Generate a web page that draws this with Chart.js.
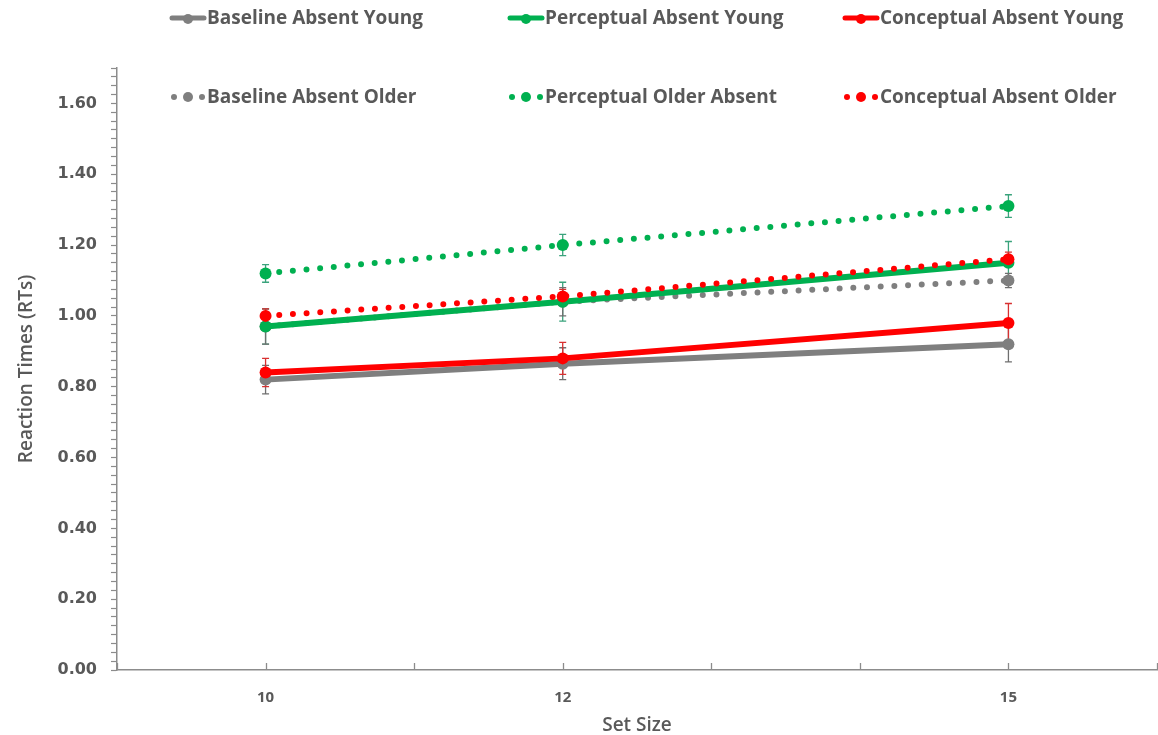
<!DOCTYPE html>
<html>
<head>
<meta charset="utf-8">
<title>Reaction Times by Set Size</title>
<script src="https://cdn.jsdelivr.net/npm/chart.js@4.4.1/dist/chart.umd.min.js"></script>
<style>
  html, body { margin: 0; padding: 0; background: #fff; }
  #wrap { position: relative; width: 1158px; height: 735px; overflow: hidden; }
</style>
</head>
<body>
<div id="wrap"><canvas id="rtChart" width="1163" height="735"></canvas></div>
<script>
/* ========= Data ========= */
const setSizes = [10, 12, 15];
const labeledSizes = [10, 12, 15];

const baselineYoung = [0.82, 0.865, 0.92];
const perceptualYoung = [0.97, 1.04, 1.15];
const conceptualYoung = [0.84, 0.88, 0.98];
const baselineOlder = [0.97, 1.04, 1.10];
const perceptualOlder = [1.12, 1.20, 1.31];
const conceptualOlder = [1.00, 1.055, 1.16];

// +/- error per point
const baselineYoungErr = [0.04, 0.045, 0.05];
const perceptualYoungErr = [0.05, 0.055, 0.06];
const conceptualYoungErr = [0.04, 0.045, 0.055];
const baselineOlderErr = [0.05, 0.04, 0.02];
const perceptualOlderErr = [0.025, 0.03, 0.032];
const conceptualOlderErr = [0.02, 0.02, 0.02];

const GRAY = "#7f7f7f";
const GREEN = "#00b050";
const RED = "#ff0000";
const TEXT = "#595959";

function toPoints(values) {
  return values.map((v, i) => ({ x: setSizes[i], y: v }));
}

function series(label, values, errs, color, errColor, dotted, order) {
  return {
    label,
    data: toPoints(values),
    errors: errs,
    errColor,
    dotted,
    order, // higher = drawn underneath
    borderColor: color,
    backgroundColor: color,
    borderWidth: 6,
    borderDash: dotted ? [0, 13.7] : [],
    borderCapStyle: "round",
    pointRadius: 6,
    pointBorderWidth: 0,
    pointBackgroundColor: color,
    tension: 0,
  };
}

const datasets = [
  series("Baseline Absent Young", baselineYoung, baselineYoungErr, GRAY, "#6f6f6f", false, 5),
  series("Perceptual Absent Young", perceptualYoung, perceptualYoungErr, GREEN, "#3aa37c", false, 4),
  series("Conceptual Absent Young", conceptualYoung, conceptualYoungErr, RED, "#d83030", false, 3),
  series("Baseline Absent Older", baselineOlder, baselineOlderErr, GRAY, "#6f6f6f", true, 6),
  series("Perceptual Older Absent", perceptualOlder, perceptualOlderErr, GREEN, "#3aa37c", true, 2),
  series("Conceptual Absent Older", conceptualOlder, conceptualOlderErr, RED, "#d83030", true, 1),
];

/* ========= Plugins ========= */
const errorBars = {
  id: "errorBars",
  beforeDatasetsDraw(chart) {
    const ctx = chart.ctx;
    const ys = chart.scales.y;
    ctx.save();
    chart.data.datasets.forEach((ds, i) => {
      const meta = chart.getDatasetMeta(i);
      ctx.strokeStyle = ds.errColor;
      ctx.lineWidth = 1.3;
      meta.data.forEach((pt, j) => {
        const v = ds.data[j].y;
        const e = ds.errors[j];
        const top = ys.getPixelForValue(v + e);
        const bot = ys.getPixelForValue(v - e);
        ctx.beginPath();
        ctx.moveTo(pt.x, top); ctx.lineTo(pt.x, bot);
        ctx.moveTo(pt.x - 3.5, top); ctx.lineTo(pt.x + 3.5, top);
        ctx.moveTo(pt.x - 3.5, bot); ctx.lineTo(pt.x + 3.5, bot);
        ctx.stroke();
      });
    });
    ctx.restore();
  },
};

// x ticks point inward (up from the axis)
const innerXTicks = {
  id: "innerXTicks",
  afterDraw(chart) {
    const ctx = chart.ctx;
    const xs = chart.scales.x;
    const bottom = chart.chartArea.bottom;
    ctx.save();
    ctx.strokeStyle = "#8c8c8c";
    ctx.lineWidth = 1.3;
    xs.ticks.forEach((t) => {
      const px = Math.round(xs.getPixelForValue(t.value)) + 0.5;
      ctx.beginPath();
      ctx.moveTo(px, bottom);
      ctx.lineTo(px, bottom - 7);
      ctx.stroke();
    });
    ctx.restore();
  },
};

// legend: two rows of three, second row sits inside the plot
const legendCols = [170, 508, 843];
const legendRows = [18, 97];

const customLegend = {
  id: "customLegend",
  afterDraw(chart) {
    const ctx = chart.ctx;
    ctx.save();
    chart.data.datasets.forEach((ds, i) => {
      const x = legendCols[i % 3];
      const y = legendRows[Math.floor(i / 3)];
      ctx.fillStyle = ds.borderColor;
      ctx.strokeStyle = ds.borderColor;
      if (ds.dotted) {
        [[x + 4, 3], [x + 18, 5], [x + 32, 3]].forEach(([cx, r]) => {
          ctx.beginPath();
          ctx.arc(cx, y, r, 0, Math.PI * 2);
          ctx.fill();
        });
      } else {
        ctx.lineWidth = 5;
        ctx.lineCap = "round";
        ctx.beginPath();
        ctx.moveTo(x + 2, y);
        ctx.lineTo(x + 34, y);
        ctx.stroke();
        ctx.beginPath();
        ctx.arc(x + 18, y + 1, 5, 0, Math.PI * 2);
        ctx.fill();
      }
      ctx.fillStyle = TEXT;
      ctx.font = "bold 19px 'Open Sans'";
      ctx.textBaseline = "middle";
      ctx.textAlign = "left";
      ctx.fillText(ds.label, x + 37, y + 1);
    });
    ctx.restore();
  },
};

/* ========= Chart ========= */
const ctx = document.getElementById("rtChart").getContext("2d");

new Chart(ctx, {
  type: "line",
  data: { datasets },
  plugins: [errorBars, innerXTicks, customLegend],
  options: {
    responsive: false,
    animation: false,
    layout: { padding: { top: 68, right: 0, left: 0, bottom: 0 } },
    plugins: {
      legend: { display: false },
      tooltip: { enabled: false },
    },
    scales: {
      x: {
        type: "linear",
        min: 9,
        max: 16,
        afterFit: (s) => {
          s.height = 65;
          s.paddingRight = 0;
          s.paddingLeft = 0;
        },
        grid: { display: false },
        border: { display: true, color: "#8c8c8c", width: 1.5 },
        ticks: {
          stepSize: 1,
          autoSkip: false,
          maxRotation: 0,
          padding: 11,
          color: TEXT,
          font: { family: "'Open Sans'", size: 15, weight: "bold" },
          callback: (v) => (labeledSizes.includes(v) ? String(v) : ""),
        },
        title: {
          display: true,
          text: "Set Size",
          color: TEXT,
          font: { family: "'Open Sans'", size: 19, weight: "600" },
          padding: { top: 0, bottom: -2 },
        },
      },
      y: {
        min: 0,
        max: 1.7,
        afterFit: (s) => { s.width = 117; },
        grid: {
          drawOnChartArea: false,
          drawTicks: true,
          tickLength: 6,
          tickColor: "#8c8c8c",
          tickWidth: 1.2,
        },
        border: { display: true, color: "#8c8c8c", width: 1.5 },
        ticks: {
          stepSize: 0.025,
          autoSkip: false,
          padding: 14,
          color: TEXT,
          font: { family: "'DejaVu Sans'", size: 16, weight: "bold" },
          callback: (v) => {
            const r = Math.round(v * 1000) / 1000;
            return Math.abs(r * 5 - Math.round(r * 5)) < 1e-6 ? r.toFixed(2) : "";
          },
        },
        title: {
          display: true,
          text: "Reaction Times (RTs)",
          color: TEXT,
          font: { family: "'Open Sans'", size: 19, weight: "600" },
          padding: { top: 15, bottom: 0 },
        },
      },
    },
  },
});
</script>
</body>
</html>
